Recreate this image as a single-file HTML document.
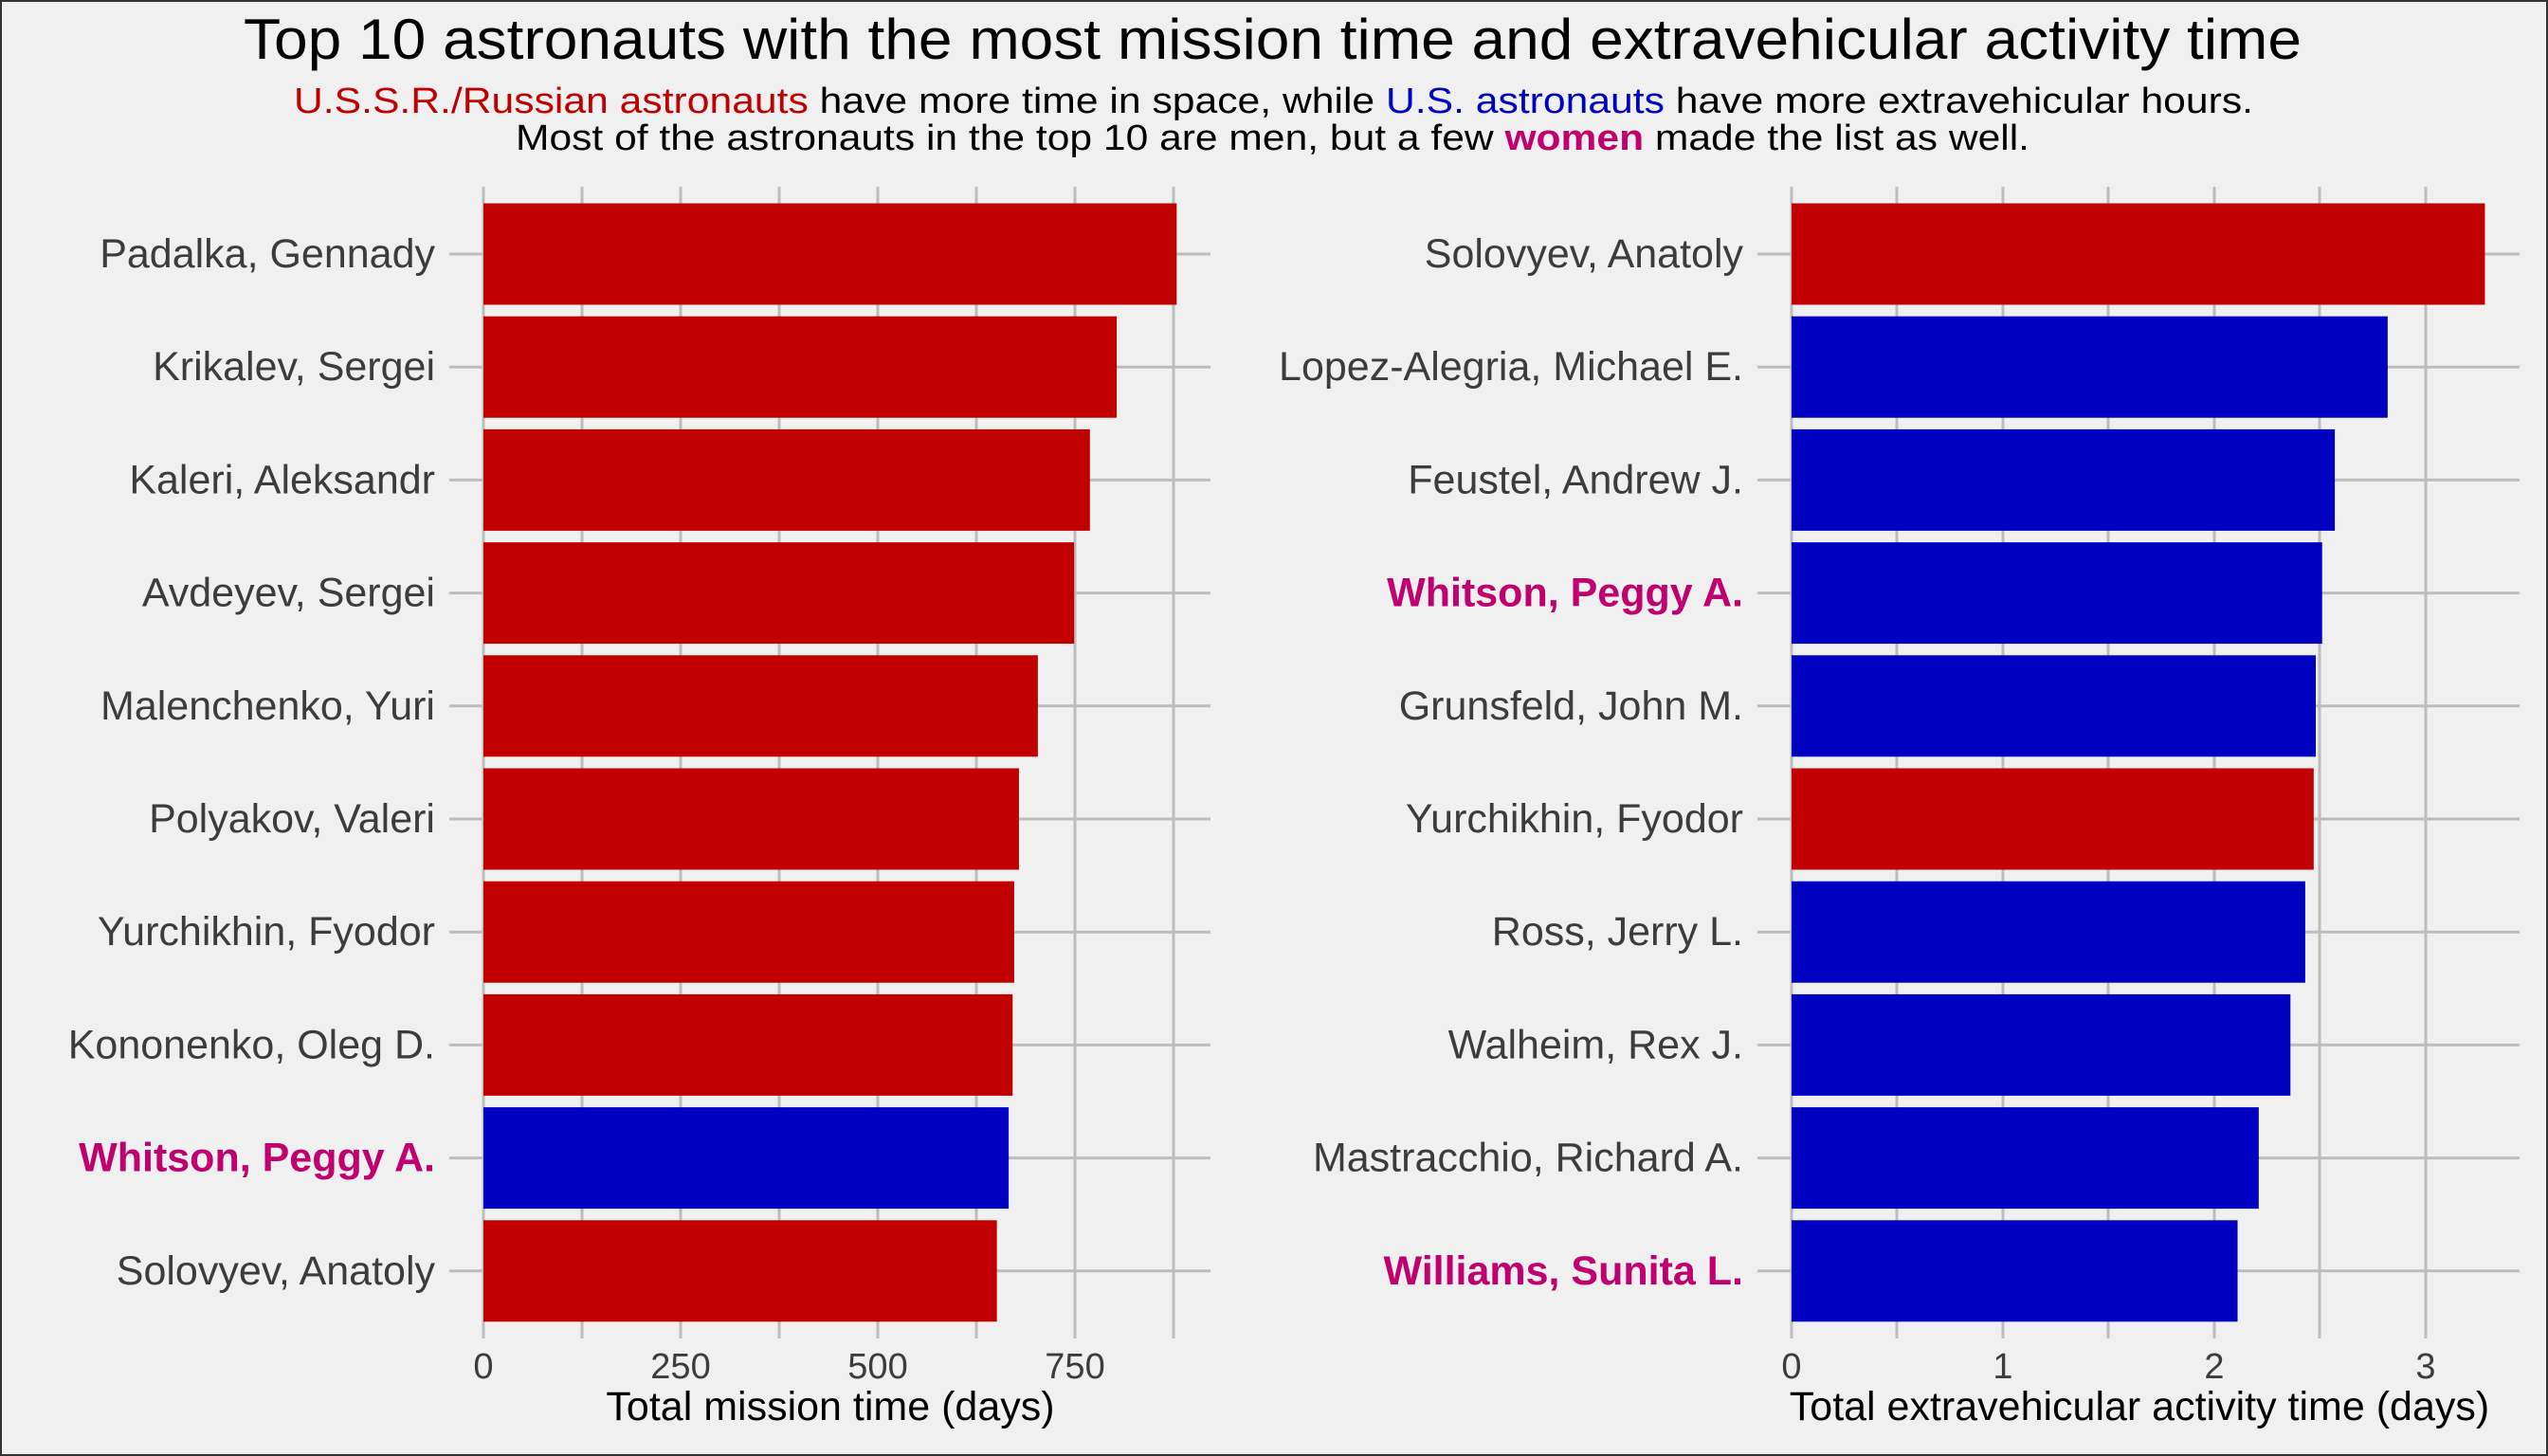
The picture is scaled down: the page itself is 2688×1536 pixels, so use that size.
<!DOCTYPE html>
<html><head><meta charset="utf-8"><style>
html,body{margin:0;padding:0;background:#f0f0f0;}
svg{display:block;}
text{font-family:"Liberation Sans",Arial,sans-serif;}
</style></head><body>
<svg width="2688" height="1536" viewBox="0 0 2688 1536" xmlns="http://www.w3.org/2000/svg">
<rect x="1" y="1" width="2686" height="1534" fill="#f0f0f0" stroke="#333" stroke-width="2"/>
<text x="257" y="62" font-size="60" fill="#000" textLength="2171" lengthAdjust="spacingAndGlyphs">Top 10 astronauts with the most mission time and extravehicular activity time</text>
<text x="310" y="119" font-size="38" fill="#000" textLength="2067" lengthAdjust="spacingAndGlyphs"><tspan fill="#c00000">U.S.S.R./Russian astronauts</tspan> have more time in space, while <tspan fill="#0000c0">U.S. astronauts</tspan> have more extravehicular hours.</text>
<text x="544" y="158" font-size="38" fill="#000" textLength="1597" lengthAdjust="spacingAndGlyphs">Most of the astronauts in the top 10 are men, but a few <tspan fill="#c0006e" font-weight="bold">women</tspan> made the list as well.</text>

<g stroke="#bdbdbd" stroke-width="3">
<line x1="510" y1="197" x2="510" y2="1412"/><line x1="614" y1="197" x2="614" y2="1412"/><line x1="718" y1="197" x2="718" y2="1412"/><line x1="822" y1="197" x2="822" y2="1412"/><line x1="926" y1="197" x2="926" y2="1412"/><line x1="1030" y1="197" x2="1030" y2="1412"/><line x1="1134" y1="197" x2="1134" y2="1412"/><line x1="1238" y1="197" x2="1238" y2="1412"/>
<line x1="1890" y1="197" x2="1890" y2="1412"/><line x1="2001" y1="197" x2="2001" y2="1412"/><line x1="2113" y1="197" x2="2113" y2="1412"/><line x1="2224" y1="197" x2="2224" y2="1412"/><line x1="2336" y1="197" x2="2336" y2="1412"/><line x1="2447" y1="197" x2="2447" y2="1412"/><line x1="2559" y1="197" x2="2559" y2="1412"/>
</g>
<g stroke="#bdbdbd" stroke-width="3" id="hg"></g>
<g id="bars"></g>
<g id="labs" font-size="43" fill="#3c3c3c"></g>

<g font-size="38" fill="#3c3c3c" text-anchor="middle">
<text x="510" y="1454">0</text><text x="718" y="1454">250</text><text x="926" y="1454">500</text><text x="1134" y="1454">750</text>
<text x="1890" y="1454">0</text><text x="2113" y="1454">1</text><text x="2336" y="1454">2</text><text x="2559" y="1454">3</text>
</g>
<g font-size="43" fill="#000" text-anchor="middle">
<text x="876" y="1498">Total mission time (days)</text>
<text x="2257" y="1498">Total extravehicular activity time (days)</text>
</g>
<script>
var L=[["Padalka, Gennady",879,0,0],["Krikalev, Sergei",803,0,0],["Kaleri, Aleksandr",769,0,0],["Avdeyev, Sergei",749,0,0],["Malenchenko, Yuri",703,0,0],["Polyakov, Valeri",679,0,0],["Yurchikhin, Fyodor",673,0,0],["Kononenko, Oleg D.",671,0,0],["Whitson, Peggy A.",666,1,1],["Solovyev, Anatoly",651,0,0]];
var R=[["Solovyev, Anatoly",3.28,0,0],["Lopez-Alegria, Michael E.",2.82,1,0],["Feustel, Andrew J.",2.57,1,0],["Whitson, Peggy A.",2.51,1,1],["Grunsfeld, John M.",2.48,1,0],["Yurchikhin, Fyodor",2.47,0,0],["Ross, Jerry L.",2.43,1,0],["Walheim, Rex J.",2.36,1,0],["Mastracchio, Richard A.",2.21,1,0],["Williams, Sunita L.",2.11,1,1]];
var ns="http://www.w3.org/2000/svg";
function el(p,t,a,txt){var e=document.createElementNS(ns,t);for(var k in a)e.setAttribute(k,a[k]);if(txt)e.textContent=txt;p.appendChild(e);return e;}
var hg=document.getElementById("hg"),bars=document.getElementById("bars"),labs=document.getElementById("labs");
function panel(D,x0,sc,xe,lx){
 for(var i=0;i<10;i++){var cy=268+i*119.2;
  el(hg,"line",{x1:lx+15,y1:cy,x2:xe,y2:cy});
  el(bars,"rect",{x:x0,y:cy-53.5,width:D[i][1]*sc,height:107,fill:D[i][2]?"#0000c0":"#c00000"});
  var a={x:lx,y:cy+14,"text-anchor":"end"};
  if(D[i][3]){a.fill="#c0006e";a["font-weight"]="bold";}
  el(labs,"text",a,D[i][0]);
 }
}
panel(L,510,208/250,1277,459);
panel(R,1890,223,2658,1839);
</script>
</svg>
</body></html>
